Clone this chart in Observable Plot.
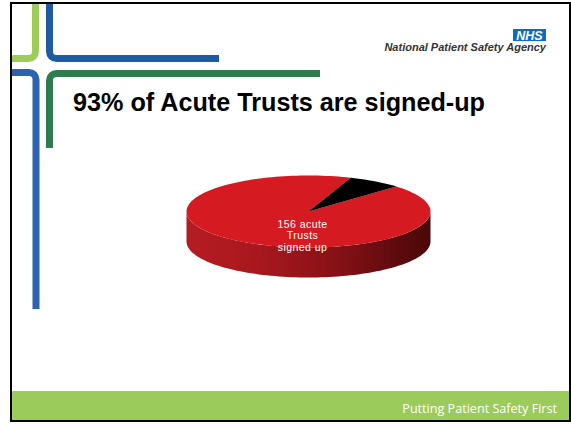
<!DOCTYPE html>
<html>
<head>
<meta charset="utf-8">
<script src="https://cdn.jsdelivr.net/npm/d3@7"></script>
<script src="https://cdn.jsdelivr.net/npm/@observablehq/plot@0.6"></script>
<style>
  html, body { margin: 0; padding: 0; background: #fff; }
  #slide { position: relative; width: 571px; height: 424px; overflow: hidden; background: #fff; }
  #deco { position: absolute; left: 0; top: 0; }
  #chart { position: absolute; left: 168px; top: 160px; }
</style>
</head>
<body>
<div id="slide">
  <svg id="deco" width="571" height="424" xmlns="http://www.w3.org/2000/svg">
    <rect x="11" y="3" width="559" height="418" fill="none" stroke="#000" stroke-width="2"/>
    <rect x="12" y="391" width="557" height="29" fill="#9bcb5a"/>
    <g fill="none" stroke-width="7" stroke-linecap="butt">
      <path d="M35.5,4 V51.5 A7,7 0 0 1 28.5,58.5 H12" stroke="#9dcc5b"/>
      <path d="M49.5,4 V51.5 A7,7 0 0 0 56.5,58.5 H219" stroke="#1f5ba3"/>
      <path d="M12,72.5 H29 A7,7 0 0 1 36,79.5 V309" stroke="#2c63b0"/>
      <path d="M320,73.5 H56.5 A7,7 0 0 0 49.5,80.5 V148" stroke="#2e7b50"/>
    </g>
    <text x="73" y="111" font-family="Liberation Sans, Arial, sans-serif" font-weight="bold" font-size="25.2" fill="#000">93% of Acute Trusts are signed-up</text>
    <rect x="513" y="29" width="33" height="12" fill="#0a6cc4"/>
    <text x="529.5" y="39.5" text-anchor="middle" font-family="Liberation Sans, Arial, sans-serif" font-weight="bold" font-style="italic" font-size="12.5" fill="#fff">NHS</text>
    <text x="546" y="51" text-anchor="end" font-family="Liberation Sans, Arial, sans-serif" font-weight="bold" font-style="italic" font-size="11" fill="#333">National Patient Safety Agency</text>
    <text x="557" y="413" text-anchor="end" font-family="Open Sans, sans-serif" font-size="12.6" fill="#fff">Putting Patient Safety First</text>
  </svg>
  <div id="chart"></div>
</div>
<script>
// ---- data ----
const categories = ["Signed up", "Not signed up"];
const trusts = [156, 12];
const sliceColors = ["#d51a21", "#000000"];
const labelLines = ["156 acute", "Trusts", "signed up"];

// ---- layout ----
const startDeg = 46;          // pie rotation (clockwise from 12 o'clock)
const depth = 30 / 36;        // 3D wall height in y units of the radius
const steps = 90;

const data = categories.map((c, i) => ({category: c, value: trusts[i]}));
const start = startDeg * Math.PI / 180;
const arcs = d3.pie().sort(null).value(d => d.value)
  .startAngle(start).endAngle(start + 2 * Math.PI)(data);

// top faces
const slicePts = [];
for (const a of arcs) {
  const cat = a.data.category;
  slicePts.push({category: cat, x: 0, y: 0});
  const n = Math.max(4, Math.ceil(steps * (a.endAngle - a.startAngle) / Math.PI));
  for (let k = 0; k <= n; k++) {
    const t = a.startAngle + (a.endAngle - a.startAngle) * k / n;
    slicePts.push({category: cat, x: Math.sin(t), y: Math.cos(t)});
  }
}

// front wall (visible half: from 3 o'clock through 6 o'clock to 9 o'clock)
const wallPts = [];
for (let k = 0; k <= steps; k++) {
  const t = Math.PI / 2 + Math.PI * k / steps;
  wallPts.push({x: Math.sin(t), y: Math.cos(t)});
}
for (let k = steps; k >= 0; k--) {
  const t = Math.PI / 2 + Math.PI * k / steps;
  wallPts.push({x: Math.sin(t), y: Math.cos(t) - depth});
}

// label near the largest slice
const big = arcs[0];
const mid = (big.startAngle + big.endAngle) / 2;
const label = [{x: 0.09 * Math.sin(mid), y: 0.8 * Math.cos(mid), text: labelLines.join("\n")}];

const svg = Plot.plot({
  width: 280,
  height: 130,
  margin: 0,
  style: {background: "transparent", overflow: "visible"},
  x: {domain: [-1, 1], range: [18, 262], axis: null},
  y: {domain: [-1, 1], range: [87, 15], axis: null},
  color: {domain: categories, range: sliceColors},
  marks: [
    Plot.line(wallPts, {x: "x", y: "y", fill: "url(#sideGrad)", stroke: "none"}),
    Plot.line(slicePts, {x: "x", y: "y", z: "category", fill: "category", stroke: "none"}),
    Plot.text(label, {x: "x", y: "y", text: "text", fill: "white", fontSize: 10.5, lineHeight: 1.12,
      fontFamily: "Liberation Sans, Arial, sans-serif"})
  ]
});

d3.select(svg).selectAll("text").attr("letter-spacing", 0.45);

const defs = d3.select(svg).insert("defs", ":first-child");
const g = defs.append("linearGradient").attr("id", "sideGrad")
  .attr("x1", 0).attr("x2", 1).attr("y1", 0).attr("y2", 0);
[[0, "#b41c22"], [0.3, "#a8181e"], [0.6, "#881217"], [0.85, "#600b0e"], [1, "#4a0808"]]
  .forEach(([o, c]) => g.append("stop").attr("offset", o).attr("stop-color", c));

document.getElementById("chart").appendChild(svg);
</script>
</body>
</html>
